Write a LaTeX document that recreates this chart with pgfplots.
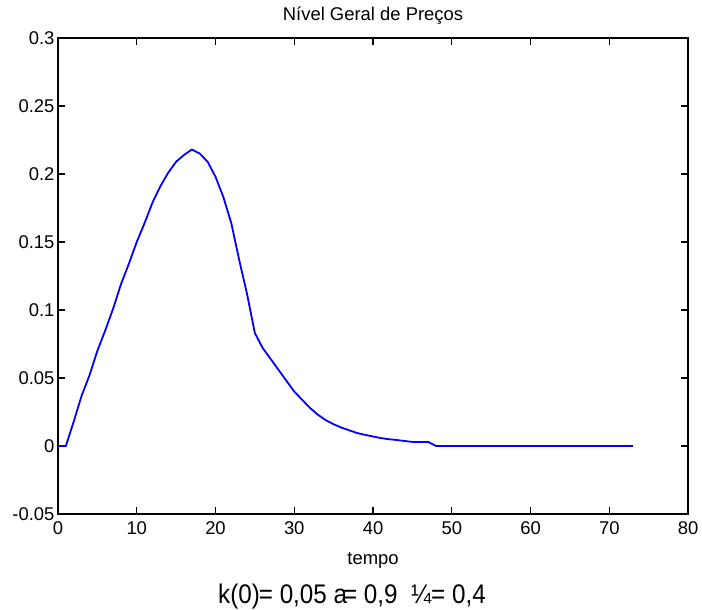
\documentclass[border=0pt]{standalone}
\usepackage{fontspec}
\setmainfont{Liberation Sans}
\newfontfamily\condfont[FakeStretch=0.9]{Liberation Sans}
\usepackage{pgfplots}
\pgfplotsset{compat=1.18}
\begin{document}
\begin{tikzpicture}
\useasboundingbox (0bp,0bp) rectangle (702bp,610bp);
\begin{axis}[
  at={(58bp,96bp)}, anchor=south west,
  scale only axis, width=630bp, height=476bp,
  xmin=0, xmax=80, ymin=-0.05, ymax=0.3,
  xtick={0,10,...,80},
  ytick={-0.05,0,0.05,0.1,0.15,0.2,0.25,0.3},
  yticklabels={-0.05,0,0.05,0.1,0.15,0.2,0.25,0.3},
  xticklabels={0,10,20,30,40,50,60,70,80},
  tick align=inside,
  major tick length=7bp,
  every tick/.style={black, line width=1.3bp},
  axis line style={black, line width=1.8bp},
  /pgf/number format/assume math mode=true,
  ticklabel style={font=\fontsize{18.5}{20}\selectfont},
  xticklabel style={yshift=-4bp},
  title={Nível Geral de Preços},
  title style={font=\fontsize{18.5}{20}\selectfont, at={(0.5,1)}, anchor=base, inner sep=0pt, yshift=12bp},
  xlabel={tempo},
  xlabel style={font=\fontsize{18.5}{20}\selectfont, at={(0.5,0)}, anchor=base, inner sep=0pt, yshift=-50bp},
]
\addplot[blue, line width=1.8bp] coordinates {
(0,0) (1,0) (2,0.018) (3,0.037) (4,0.052) (5,0.07) (6,0.085) (7,0.101)
(8,0.119) (9,0.134) (10,0.150) (11,0.164) (12,0.179) (13,0.191) (14,0.201)
(15,0.209) (16,0.214) (17,0.218) (18,0.215) (19,0.209) (20,0.198) (21,0.183)
(22,0.164) (23,0.137) (24,0.112) (25,0.083) (26,0.072) (27,0.064) (28,0.056)
(29,0.048) (30,0.040) (31,0.034) (32,0.028) (33,0.023) (34,0.019) (35,0.016)
(36,0.0135) (37,0.0115) (38,0.0095) (39,0.0082) (40,0.007) (41,0.0058)
(42,0.005) (43,0.0044) (44,0.0037) (45,0.003) (46,0.003) (47,0.003) (48,0)
(50,0) (55,0) (60,0) (65,0) (70,0) (73,0)
};
\end{axis}
\node[font=\condfont\fontsize{27}{29}\selectfont, inner sep=0pt, anchor=base] at (352bp,7bp) {k(0)\kern-1pt= 0,05 a\kern-4pt= 0,9\enspace ¼= 0,4};
\end{tikzpicture}
\end{document}
